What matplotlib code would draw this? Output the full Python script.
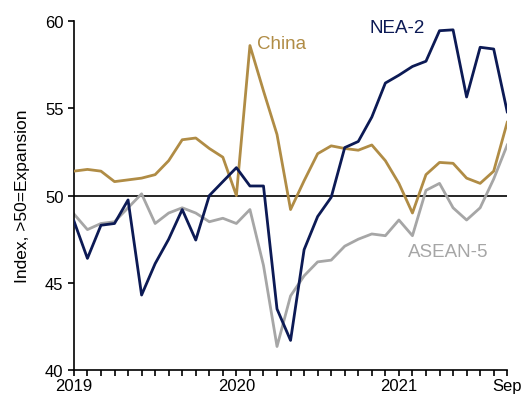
import numpy as np
import matplotlib
matplotlib.use("Agg")
import matplotlib.pyplot as plt

#_________________________________________
# DATA (monthly, Jan 2019 - Sep 2021)
#_________________________________________
months = np.arange(33)
tick_pos = [0, 12, 24, 32]
tick_labels = ["2019", "2020", "2021", "Sep"]

china = [51.4, 51.5, 51.4, 50.8, 50.9, 51.0, 51.2, 52.0, 53.2, 53.3, 52.7, 52.2,
         50.0, 58.6, 56.0, 53.5, 49.2, 50.85, 52.4, 52.85, 52.7, 52.6, 52.9, 52.0,
         50.7, 49.0, 51.2, 51.9, 51.85, 51.0, 50.7, 51.4, 54.2]
nea2 = [48.55, 46.4, 48.3, 48.4, 49.75, 44.3, 46.1, 47.5, 49.2, 47.45, 50.0, 50.8,
        51.6, 50.55, 50.55, 43.5, 41.7, 46.9, 48.8, 49.9, 52.75, 53.1, 54.5, 56.45,
        56.9, 57.4, 57.7, 59.45, 59.5, 55.65, 58.5, 58.4, 54.8]
asean5 = [48.95, 48.05, 48.4, 48.5, 49.3, 50.1, 48.4, 49.0, 49.3, 49.0, 48.5, 48.7,
          48.4, 49.2, 46.0, 41.35, 44.25, 45.4, 46.2, 46.3, 47.1, 47.5, 47.8, 47.7,
          48.6, 47.7, 50.3, 50.7, 49.3, 48.6, 49.3, 50.95, 52.9]

navy = "#0c1a55"
gold = "#b08c45"
grey = "#a6a6a6"

#_________________________________________
# PLOT
#_________________________________________
plt.rcParams["font.family"] = ["Liberation Sans", "DejaVu Sans"]
fig = plt.figure(figsize=(5.24, 4.02), dpi=100)
ax = fig.add_axes([0.141, 0.077, 0.827, 0.868])

ax.axhline(50, color="black", lw=1.2, zorder=1)
ax.plot(months, china, color=gold, lw=2, zorder=3)
ax.plot(months, asean5, color=grey, lw=2, zorder=2)
ax.plot(months, nea2, color=navy, lw=2, zorder=4)

# series labels
ax.text(13.55, 58.7, "China", color=gold, fontsize=13.5, va="center")
ax.text(21.8, 59.65, "NEA-2", color=navy, fontsize=13.5, va="center")
ax.text(24.7, 46.8, "ASEAN-5", color=grey, fontsize=13.5, va="center")

ax.set_xlim(0, 32)
ax.set_ylim(40, 60)
ax.set_yticks([40, 45, 50, 55, 60])
ax.set_xticks(months, minor=True)
ax.set_xticks(tick_pos)
ax.set_xticklabels(tick_labels)
ax.tick_params(axis="both", which="both", direction="out", length=4.5, width=1.2, labelsize=12)
ax.tick_params(axis="x", which="both", pad=1)
ax.tick_params(axis="y", which="both", pad=3)
ax.spines["top"].set_visible(False)
ax.spines["right"].set_visible(False)
ax.spines["left"].set_linewidth(1.2)
ax.spines["bottom"].set_linewidth(1.2)
ax.set_ylabel("Index, >50=Expansion", fontsize=12.5, labelpad=10.5)

plt.savefig("out.png", dpi=100)
